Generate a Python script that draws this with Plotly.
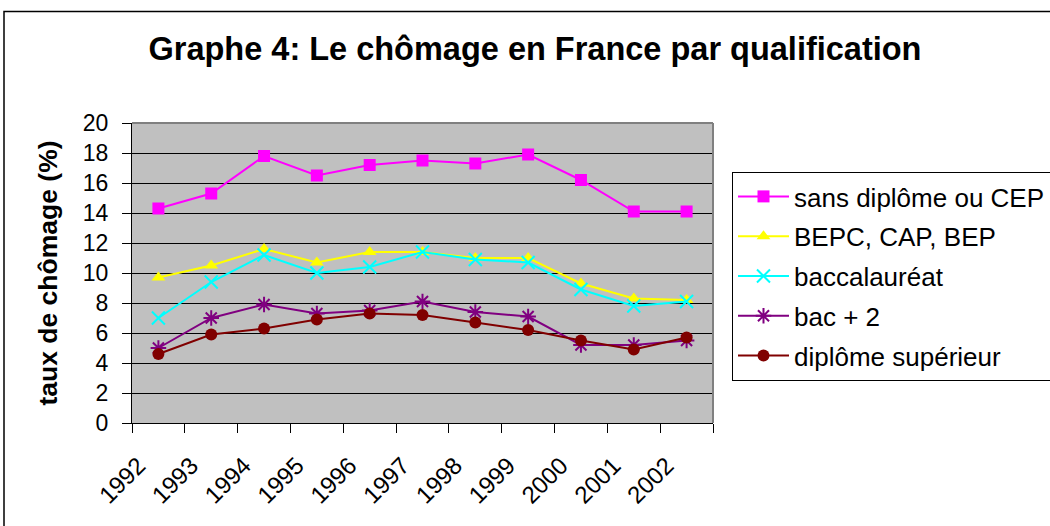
import plotly.graph_objects as go

years = ["1992", "1993", "1994", "1995", "1996", "1997", "1998", "1999", "2000", "2001", "2002"]

sans_diplome = [14.3, 15.3, 17.8, 16.5, 17.2, 17.5, 17.3, 17.9, 16.2, 14.1, 14.1]
bepc_cap_bep = [9.7, 10.5, 11.6, 10.7, 11.4, 11.4, 11.0, 11.0, 9.3, 8.3, 8.2]
baccalaureat = [7.0, 9.4, 11.2, 10.0, 10.4, 11.4, 10.9, 10.7, 8.9, 7.8, 8.1]
bac_plus_2 = [5.0, 7.0, 7.9, 7.3, 7.5, 8.1, 7.4, 7.1, 5.2, 5.2, 5.5]
diplome_sup = [4.6, 5.9, 6.3, 6.9, 7.3, 7.2, 6.7, 6.2, 5.5, 4.9, 5.7]

series = [
    ("sans diplôme ou CEP", sans_diplome, "#FF00FF", "square", False),
    ("BEPC, CAP, BEP", bepc_cap_bep, "#FFFF00", "triangle-up", False),
    ("baccalauréat", baccalaureat, "#00FFFF", "x-thin-open", True),
    ("bac + 2", bac_plus_2, "#800080", "asterisk-open", True),
    ("diplôme supérieur", diplome_sup, "#800000", "circle", False),
]

fig = go.Figure()
for i, (name, vals, color, symbol, is_line_symbol) in enumerate(series):
    marker = dict(symbol=symbol, size=12, color=color)
    if is_line_symbol:
        marker["line"] = dict(color=color, width=2)
        marker["size"] = 13
    else:
        marker["line"] = dict(width=0)
    fig.add_trace(go.Scatter(
        x=years, y=vals, name=name, mode="lines+markers",
        line=dict(color=color, width=2), marker=marker,
        legendgroup=f"g{i}",
    ))

FONT = "Liberation Sans, Arial, sans-serif"

fig.update_layout(
    width=1050, height=526,
    margin=dict(l=132, r=337, t=123, b=103, autoexpand=False),
    paper_bgcolor="white",
    plot_bgcolor="#C0C0C0",
    font=dict(family=FONT, color="black"),
    showlegend=True,
    title=dict(
        text="<b>Graphe 4: Le chômage en France par qualification</b>",
        font=dict(family=FONT, size=32.5, color="black"),
        x=535 / 1050, xanchor="center", xref="container",
        y=1 - 49 / 526, yanchor="middle", yref="container",
    ),
    legend=dict(
        x=(732 - 132) / 581, xanchor="left",
        y=(423 - 172) / 300, yanchor="top",
        bgcolor="white", bordercolor="black", borderwidth=1,
        font=dict(family=FONT, size=26, color="black"),
        tracegroupgap=3, itemwidth=51,
    ),
    xaxis=dict(
        type="category", tickson="boundaries", automargin=False,
        ticks="outside", ticklen=9, tickcolor="black", tickwidth=1,
        tickangle=-45, tickfont=dict(family=FONT, size=24, color="black"),
        ticklabelshift=-20, ticklabelstandoff=18,
        showline=True, linecolor="black", linewidth=1,
        showgrid=False, range=[-0.5, 10.5],
    ),
    yaxis=dict(
        range=[0, 20], dtick=2, tick0=0, automargin=False,
        ticks="outside", ticklen=9, tickcolor="black", tickwidth=1,
        tickfont=dict(family=FONT, size=23, color="black"),
        ticklabelstandoff=9,
        showline=True, linecolor="black", linewidth=1,
        showgrid=True, gridcolor="black", gridwidth=1,
        zeroline=False,
        title=dict(text="<b>taux de chômage (%)</b>",
                   font=dict(family=FONT, size=26.5, color="black"), standoff=17),
    ),
    shapes=[
        dict(type="rect", xref="paper", yref="paper",
             x0=(4 - 132) / 581, x1=2.0, y0=-0.6, y1=(423 - 11.5) / 300,
             line=dict(color="black", width=1.5), fillcolor="rgba(0,0,0,0)", layer="below"),
        dict(type="line", xref="paper", yref="paper", x0=0, x1=1, y0=1, y1=1,
             line=dict(color="#808080", width=2)),
        dict(type="line", xref="paper", yref="paper", x0=1, x1=1, y0=0, y1=1,
             line=dict(color="#808080", width=2)),
    ],
)

fig.write_html("out.html", config={"displayModeBar": False},
               post_script="document.body.style.margin='0px';")
